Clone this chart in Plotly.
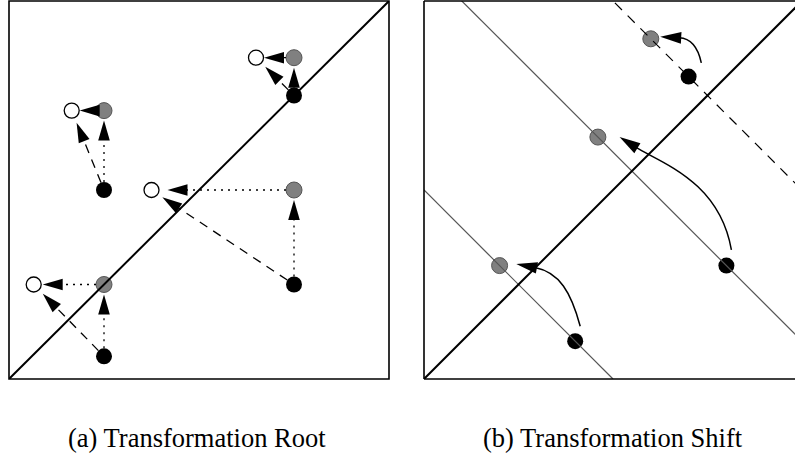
import numpy as np
import plotly.graph_objects as go

# ---------------- data ----------------
# (a) Transformation Root: start points, points after the vertical move,
#     and final points after the horizontal move
root_x = [2.5, 7.5, 7.5, 2.5]
root_y = [5.0, 7.5, 2.5, 0.6]
root_up_y = [7.1, 8.5, 5.0, 2.5]
root_final_x = [1.65, 6.5, 3.75, 0.65]

# (b) Transformation Shift: start points and shifted points on the lines x + y = c
shift_x = [4.0, 8.0, 7.0]
shift_y = [1.0, 3.0, 8.0]
shifted_x = [2.0, 4.6, 6.0]
shifted_y = [3.0, 6.4, 9.0]
level_sums = [5.0, 11.0, 15.0]

captions = ["(a) Transformation Root", "(b) Transformation Shift"]

# ---------------- layout / style ----------------
FIG_W, FIG_H = 795, 458
TOP_PX, BOTTOM_PX = 1, 379
A_LEFT, A_RIGHT = 9, 389
B_LEFT = 424
SY = (BOTTOM_PX - TOP_PX) / 10.0          # pixels per data unit (vertical)
A_SX = (A_RIGHT - A_LEFT) / 10.0          # pixels per data unit, panel (a)
B_SX = SY                                 # panel (b) keeps the same scale
B_XMAX = (FIG_W - B_LEFT) / B_SX          # panel (b) runs past the right edge

HEAD_LEN, HEAD_HALF = 20.0, 5.8           # arrowhead size in pixels
DOT = "2px,5px"
DASH = "9px,7px"
H_GAPS = [8, 8, 16, 9]                    # tip distance for horizontal arrows (px)
MARK = 16

# curved arrows in (b): start offset, tip offset (px, y up), out/in angle (deg), handle lengths
CURVES = [
    dict(start=(5, 15), tip=(16.7, 1.7), a_out=105, a_in=169, k1=35, k2=25),
    dict(start=(5, 15.7), tip=(21.7, 0.0), a_out=100, a_in=148, k1=70, k2=30),
    dict(start=(12.7, 13.7), tip=(9.4, 2.0), a_out=102, a_in=177, k1=15, k2=12),
]

fig = go.Figure()
shapes = []


def head_path(tip, u, sx, sy, length=HEAD_LEN, half=HEAD_HALF):
    """Filled triangle path (data coords) with its point at `tip` (pixel space, y up)."""
    n = np.array([-u[1], u[0]])
    base = tip - length * u
    pts = [tip, base + half * n, base - half * n]
    return "M " + " L ".join(f"{p[0] / sx},{p[1] / sy}" for p in pts) + " Z"


def straight_arrow(p0, p1, gap, dash, sx, sy, xref, yref, store, r0=8.0):
    a = np.array([p0[0] * sx, p0[1] * sy])
    b = np.array([p1[0] * sx, p1[1] * sy])
    u = (b - a) / np.linalg.norm(b - a)
    tip = b - gap * u
    start = a + r0 * u
    end = tip - (HEAD_LEN - 1) * u
    store.setdefault(dash, ([], []))
    xs, ys = store[dash]
    xs += [start[0] / sx, end[0] / sx, None]
    ys += [start[1] / sy, end[1] / sy, None]
    shapes.append(dict(type="path", xref=xref, yref=yref, path=head_path(tip, u, sx, sy),
                       fillcolor="black", line=dict(width=0), layer="above"))


# ---------------- panel (a) ----------------
fig.add_trace(go.Scatter(x=root_x, y=root_y, mode="markers", xaxis="x", yaxis="y",
                         marker=dict(size=MARK, color="black", line=dict(width=0)),
                         showlegend=False, hoverinfo="skip"))
fig.add_trace(go.Scatter(x=root_x, y=root_up_y, mode="markers", xaxis="x", yaxis="y",
                         marker=dict(size=MARK, color="#808080", line=dict(width=1, color="#555555")),
                         showlegend=False, hoverinfo="skip"))
fig.add_trace(go.Scatter(x=root_final_x, y=root_up_y, mode="markers", xaxis="x", yaxis="y",
                         marker=dict(size=MARK - 1, color="white", line=dict(width=1.3, color="black")),
                         showlegend=False, hoverinfo="skip"))
fig.add_trace(go.Scatter(x=[0, 10], y=[0, 10], mode="lines", xaxis="x", yaxis="y",
                         line=dict(color="black", width=2), showlegend=False, hoverinfo="skip"))

a_lines = {}
for i in range(len(root_x)):
    black = (root_x[i], root_y[i])
    grey = (root_x[i], root_up_y[i])
    white = (root_final_x[i], root_up_y[i])
    straight_arrow(black, grey, 10, DOT, A_SX, SY, "x", "y", a_lines)
    straight_arrow(grey, white, H_GAPS[i], DOT, A_SX, SY, "x", "y", a_lines)
    straight_arrow(black, white, 13, DASH, A_SX, SY, "x", "y", a_lines)

for dash, (xs, ys) in a_lines.items():
    fig.add_trace(go.Scatter(x=xs, y=ys, mode="lines", xaxis="x", yaxis="y",
                             line=dict(color="black", width=1.3, dash=dash),
                             showlegend=False, hoverinfo="skip"))

# ---------------- panel (b) ----------------
fig.add_trace(go.Scatter(x=shift_x, y=shift_y, mode="markers", xaxis="x2", yaxis="y2",
                         marker=dict(size=MARK, color="black", line=dict(width=0)),
                         showlegend=False, hoverinfo="skip"))
fig.add_trace(go.Scatter(x=shifted_x, y=shifted_y, mode="markers", xaxis="x2", yaxis="y2",
                         marker=dict(size=MARK, color="#808080", line=dict(width=1, color="#555555")),
                         showlegend=False, hoverinfo="skip"))
for c in level_sums:
    dashed = c == max(level_sums)
    fig.add_trace(go.Scatter(x=[0, c], y=[c, 0], mode="lines", xaxis="x2", yaxis="y2",
                             line=dict(color="black" if dashed else "#555555", width=1.2,
                                       dash="10px,8px" if dashed else "solid"),
                             showlegend=False, hoverinfo="skip"))
fig.add_trace(go.Scatter(x=[0, 10], y=[0, 10], mode="lines", xaxis="x2", yaxis="y2",
                         line=dict(color="black", width=2), showlegend=False, hoverinfo="skip"))

for i, cv in enumerate(CURVES):
    b0 = np.array([shift_x[i] * B_SX, shift_y[i] * SY]) + np.array(cv["start"])
    tip = np.array([shifted_x[i] * B_SX, shifted_y[i] * SY]) + np.array(cv["tip"])
    ao, ai = np.radians(cv["a_out"]), np.radians(cv["a_in"])
    u_in = np.array([np.cos(ai), np.sin(ai)])
    p3 = tip - (HEAD_LEN - 1) * u_in
    p1 = b0 + cv["k1"] * np.array([np.cos(ao), np.sin(ao)])
    p2 = p3 - cv["k2"] * u_in
    pts = [b0, p1, p2, p3]
    d = [f"{p[0] / B_SX},{p[1] / SY}" for p in pts]
    shapes.append(dict(type="path", xref="x2", yref="y2",
                       path=f"M {d[0]} C {d[1]} {d[2]} {d[3]}",
                       line=dict(color="black", width=1.5), layer="above"))
    shapes.append(dict(type="path", xref="x2", yref="y2",
                       path=head_path(tip, u_in, B_SX, SY, HEAD_LEN + 1, 5.8),
                       fillcolor="black", line=dict(width=0), layer="above"))

# ---------------- frames ----------------
def px(x):
    return x / FIG_W


def py(y):
    return 1 - y / FIG_H


frame = dict(color="black", width=1.6)
shapes.append(dict(type="rect", xref="paper", yref="paper",
                   x0=px(A_LEFT), x1=px(A_RIGHT), y0=py(BOTTOM_PX), y1=py(TOP_PX),
                   line=frame, layer="above"))
for x0, y0, x1, y1 in [(B_LEFT, TOP_PX, B_LEFT, BOTTOM_PX),
                       (B_LEFT, TOP_PX, FIG_W + 5, TOP_PX),
                       (B_LEFT, BOTTOM_PX, FIG_W + 5, BOTTOM_PX)]:
    shapes.append(dict(type="line", xref="paper", yref="paper",
                       x0=px(x0), x1=px(x1), y0=py(y0), y1=py(y1), line=frame, layer="above"))

ax_common = dict(showgrid=False, zeroline=False, showticklabels=False, ticks="",
                 showline=False, fixedrange=True)

cap_font = dict(family="Liberation Serif", size=26.5, color="black")
fig.update_layout(
    width=FIG_W, height=FIG_H, autosize=False,
    margin=dict(l=0, r=0, t=0, b=0, pad=0),
    paper_bgcolor="white", plot_bgcolor="white",
    xaxis=dict(domain=[px(A_LEFT), px(A_RIGHT)], range=[0, 10], **ax_common),
    yaxis=dict(domain=[py(BOTTOM_PX), py(TOP_PX)], range=[0, 10], **ax_common),
    xaxis2=dict(domain=[px(B_LEFT), 1.0], range=[0, B_XMAX], anchor="y2", **ax_common),
    yaxis2=dict(domain=[py(BOTTOM_PX), py(TOP_PX)], range=[0, 10], anchor="x2", **ax_common),
    shapes=shapes,
    annotations=[
        dict(text=captions[0], x=px(197), y=py(438), xref="paper", yref="paper",
             showarrow=False, xanchor="center", yanchor="middle", font=cap_font),
        dict(text=captions[1], x=px(613), y=py(438), xref="paper", yref="paper",
             showarrow=False, xanchor="center", yanchor="middle", font=cap_font),
    ],
)

fig.write_html("out.html")
